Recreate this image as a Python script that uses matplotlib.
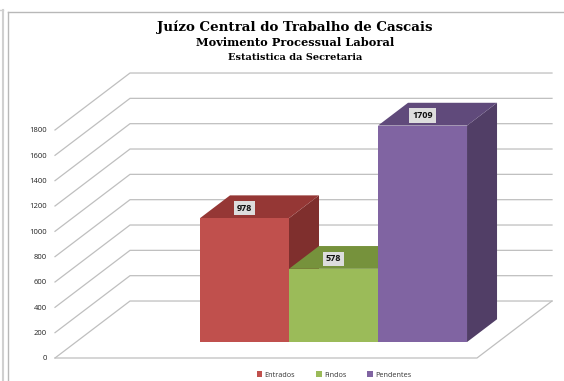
import matplotlib
matplotlib.use('Agg')
import matplotlib.pyplot as plt
from matplotlib.lines import Line2D
from matplotlib.patches import Polygon, Patch

categories = ['Entrados', 'Findos', 'Pendentes']
values = [978, 578, 1709]
ticks = [0, 200, 400, 600, 800, 1000, 1200, 1400, 1600, 1800]

front_colors = ['#C0504D', '#9BBB59', '#8064A2']
top_colors = ['#953735', '#76923C', '#604A7B']
side_colors = ['#7F2F2D', '#76923C', '#513E66']

W, H = 564, 381
# depth of the floor, in x units and y units
depth_x = 75 / 89
depth_y = 57 / 0.1267
bar_d0 = 0.28
bar_d1 = 0.68
grid_color = '#BFBFBF'

fig = plt.figure(figsize=(W / 100, H / 100), dpi=100)
ax = fig.add_axes([55 / W, (H - 358) / H, (477 - 55) / W, 228 / H])
ax.set_xlim(-1.893, 2.848)
ax.set_ylim(0, 1800)
ax.patch.set_visible(False)
for s in ax.spines.values():
    s.set_visible(False)
ax.set_xticks([])
ax.set_yticks(ticks)
ax.tick_params(axis='y', length=0, pad=6, labelsize=5.5, labelcolor='#222222')
for lab in ax.get_yticklabels():
    lab.set_family('Open Sans')


# oblique projection: d=0 is the front of the floor, d=1 the back wall
def proj(x, v, d):
    return (x + d * depth_x, v + d * depth_y)


x0, x1 = ax.get_xlim()

# walls and floor
for t in ticks:
    pts = [proj(x0, t, 0), proj(x0, t, 1), proj(x1, t, 1)]
    ax.plot(*zip(*pts), color=grid_color, lw=0.9, clip_on=False, zorder=1)
ax.plot(*zip(proj(x0, 0, 0), proj(x1, 0, 0), proj(x1, 0, 1)),
        color=grid_color, lw=0.9, clip_on=False, zorder=1)

# bars, drawn left to right so each hides the side of the one before
for i, v in enumerate(values):
    l, r = i - 0.5, i + 0.5
    side = [proj(r, 0, bar_d0), proj(r, 0, bar_d1), proj(r, v, bar_d1), proj(r, v, bar_d0)]
    top = [proj(l, v, bar_d0), proj(r, v, bar_d0), proj(r, v, bar_d1), proj(l, v, bar_d1)]
    front = [proj(l, 0, bar_d0), proj(r, 0, bar_d0), proj(r, v, bar_d0), proj(l, v, bar_d0)]
    ax.add_patch(Polygon(side, fc=side_colors[i], ec='none', zorder=2 + i, clip_on=False))
    ax.add_patch(Polygon(top, fc=top_colors[i], ec='none', zorder=2 + i, clip_on=False))
    ax.add_patch(Polygon(front, fc=front_colors[i], ec='none', zorder=2 + i, clip_on=False))
    # value label sits over the top face, lined up with the front face centre
    lx, ly = proj(i, v, bar_d0)
    ax.text(lx, ly + 0.175 * depth_y, str(v), ha='center', va='center', fontsize=6.5, fontweight='bold',
            family='Open Sans', color='#111111', zorder=10,
            bbox=dict(fc='#DDDDDD', ec='none', pad=2))

# titles
fig.text(295 / W, 1 - 27 / H, 'Juízo Central do Trabalho de Cascais', ha='center', va='center',
         family='DejaVu Serif', fontweight='bold', fontsize=9.6, color='black')
fig.text(295 / W, 1 - 43 / H, 'Movimento Processual Laboral', ha='center', va='center',
         family='DejaVu Serif', fontweight='bold', fontsize=8.2, color='black')
fig.text(295 / W, 1 - 57 / H, 'Estatistica da Secretaria', ha='center', va='center',
         family='DejaVu Serif', fontweight='bold', fontsize=7, color='black')

# legend
handles = [Patch(fc=c, ec='none') for c in front_colors]
fig.legend(handles, categories, loc='center', bbox_to_anchor=(334 / W, 1 - 375 / H), ncol=3,
           frameon=False, handlelength=0.8, handleheight=0.8, handletextpad=0.3, columnspacing=2.9,
           prop={'family': 'Open Sans', 'size': 5.2}, labelcolor='#333333', borderpad=0)

# outer frames of the screenshot
for xs, ys, c, w in [((3, 3), (10, 381), '#D0D0D0', 1.5), ((8, 8), (12, 381), '#B8B8B8', 1),
                     ((8, 564), (12, 12), '#B8B8B8', 1), ((0, 3), (10, 10), '#D0D0D0', 1)]:
    fig.add_artist(Line2D([x / W for x in xs], [1 - y / H for y in ys], color=c, lw=w))

fig.savefig('out.png', dpi=100)
